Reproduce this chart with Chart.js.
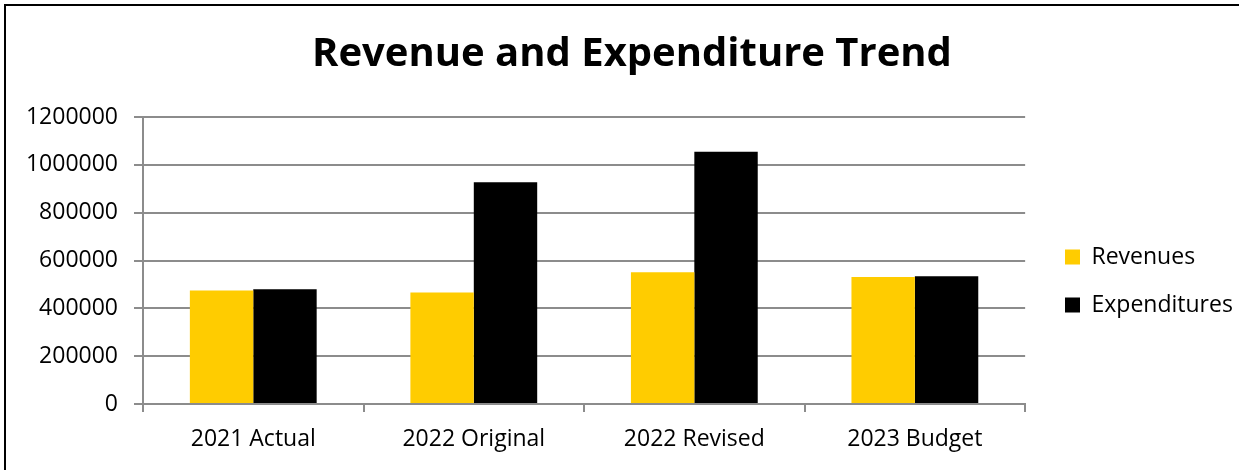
<!DOCTYPE html>
<html>
<head>
<meta charset="utf-8">
<title>Revenue and Expenditure Trend</title>
<script src="https://cdn.jsdelivr.net/npm/chart.js@4/dist/chart.umd.min.js"></script>
<style>
    html, body { margin: 0; padding: 0; background: #ffffff; }
    #trendChart { display: block; }
</style>
</head>
<body>
<canvas id="trendChart" width="1248" height="470"></canvas>
<script>
// Données du graphique
const categories = ['2021 Actual', '2022 Original', '2022 Revised', '2023 Budget'];
const revenues = [475000, 466000, 551000, 531000];
const expenditures = [480000, 927000, 1055000, 534000];
const yTicks = [0, 200000, 400000, 600000, 800000, 1000000, 1200000];

const gridColor = '#8c8c8c';
const fontFamily = '"Open Sans", Lato, sans-serif';

// Cadre noir (haut et gauche) autour du graphique
const framePlugin = {
    id: 'frame',
    beforeDraw(chart) {
        const ctx = chart.ctx;
        ctx.save();
        ctx.fillStyle = '#ffffff';
        ctx.fillRect(0, 0, chart.width, chart.height);
        ctx.strokeStyle = '#000000';
        ctx.lineWidth = 2;
        ctx.beginPath();
        ctx.moveTo(4, 5);
        ctx.lineTo(1239, 5);
        ctx.moveTo(5, 4);
        ctx.lineTo(5, chart.height);
        ctx.stroke();
        ctx.restore();
    }
};

// Position du titre et de la légende
const blockPlacement = {
    id: 'blockPlacement',
    afterLayout(chart) {
        const lg = chart.legend;
        if (lg) {
            const dx = 1065 - lg.options.labels.padding - lg.left;
            lg.left += dx;
            lg.right += dx;
            lg.top += 46;
            lg.bottom += 46;
        }
        const tb = chart.titleBlock;
        if (tb) {
            const tx = 632 - (tb.left + tb.right) / 2;
            tb.left += tx;
            tb.right += tx;
        }
    }
};

const ctx = document.getElementById('trendChart').getContext('2d');

new Chart(ctx, {
    type: 'bar',
    data: {
        labels: categories,
        datasets: [{
            label: 'Revenues',
            data: revenues,
            backgroundColor: '#ffcc00',
            borderWidth: 0
        }, {
            label: 'Expenditures',
            data: expenditures,
            backgroundColor: '#000000',
            borderWidth: 0
        }]
    },
    options: {
        responsive: false,
        animation: false,
        categoryPercentage: 0.575,
        barPercentage: 1.0,
        layout: {
            padding: { left: 0, right: 20, top: 0, bottom: 0 }
        },
        plugins: {
            title: {
                display: true,
                text: 'Revenue and Expenditure Trend',
                color: '#000000',
                font: { family: fontFamily, size: 40, weight: 'bold' },
                padding: { top: 31, bottom: 38 }
            },
            legend: {
                position: 'right',
                labels: {
                    boxWidth: 15,
                    boxHeight: 15,
                    padding: 25,
                    color: '#000000',
                    font: { family: fontFamily, size: 23 }
                }
            },
            tooltip: { enabled: false }
        },
        scales: {
            x: {
                grid: {
                    drawOnChartArea: false,
                    drawTicks: true,
                    tickLength: 8,
                    color: gridColor,
                    lineWidth: 2
                },
                border: { display: true, color: gridColor, width: 2 },
                ticks: {
                    color: '#000000',
                    padding: 14,
                    font: { family: fontFamily, size: 23 }
                },
                afterFit(scale) {
                    scale.height = 66;
                }
            },
            y: {
                min: 0,
                max: 1200000,
                grid: {
                    color: gridColor,
                    lineWidth: 2,
                    drawTicks: true,
                    tickLength: 9
                },
                border: { display: true, color: gridColor, width: 2 },
                ticks: {
                    color: '#000000',
                    padding: 16,
                    font: { family: fontFamily, size: 23 },
                    callback: function(value) {
                        return String(value);
                    }
                },
                afterBuildTicks(scale) {
                    scale.ticks = yTicks.map(v => ({ value: v }));
                },
                afterFit(scale) {
                    scale.width = 143;
                }
            }
        }
    },
    plugins: [framePlugin, blockPlacement]
});
</script>
</body>
</html>
